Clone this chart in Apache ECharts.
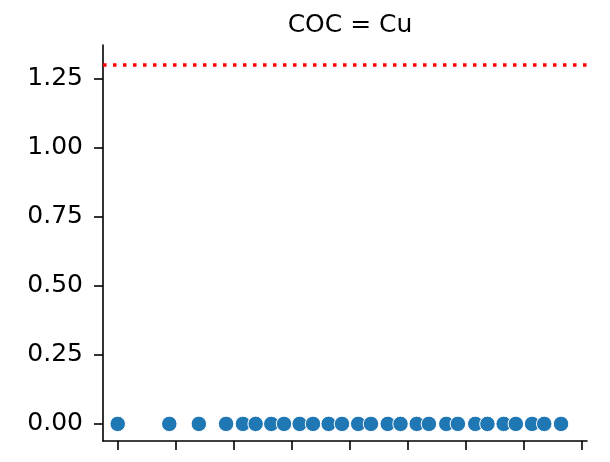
<!DOCTYPE html>
<html>
<head>
<meta charset="utf-8">
<script src="https://cdn.jsdelivr.net/npm/echarts@6/dist/echarts.min.js"></script>
<style>
html,body{margin:0;padding:0;background:#fff;}
#chart{width:610px;height:462px;}
</style>
</head>
<body>
<div id="chart"></div>
<script>
// x positions (in x-tick units; ticks at 0..8, labels not shown in the reference)
var xValues = [0.0, 0.89, 1.40, 1.87, 2.16, 2.38, 2.65, 2.87, 3.14, 3.37, 3.64, 3.87, 4.15, 4.37, 4.66, 4.88, 5.16, 5.37, 5.67, 5.87, 6.17, 6.38, 6.66, 6.87, 7.15, 7.36, 7.65];
var yValues = [0, 0, 0, 0, 0, 0, 0, 0, 0, 0, 0, 0, 0, 0, 0, 0, 0, 0, 0, 0, 0, 0, 0, 0, 0, 0, 0];
var xTicks = [0, 1, 2, 3, 4, 5, 6, 7, 8];
var yTicks = [0, 0.25, 0.5, 0.75, 1.0, 1.25];
var threshold = 1.3;
var titleText = 'COC = Cu';

var points = xValues.map(function (x, i) { return [x, yValues[i]]; });
var font = 'DejaVu Sans';
var ink = '#000000';

var chart = echarts.init(document.getElementById('chart'), null, {renderer: 'canvas'});
chart.setOption({
  animation: false,
  backgroundColor: '#fff',
  title: {
    text: titleText,
    left: 345, top: 8, textAlign: 'center',
    textStyle: {fontFamily: font, fontSize: 25, fontWeight: 'normal', color: ink}
  },
  grid: {left: 103, right: 23, top: 45, bottom: 21, containLabel: false},
  xAxis: {
    type: 'value', min: -0.254, max: 8.098,
    splitLine: {show: false},
    axisLine: {show: true, onZero: false, lineStyle: {color: ink, width: 1.6}},
    axisTick: {show: true, length: 9, customValues: xTicks, lineStyle: {color: ink, width: 1.6}},
    axisLabel: {show: false, customValues: xTicks}
  },
  yAxis: {
    type: 'value', min: -0.062, max: 1.373,
    splitLine: {show: false},
    axisLine: {show: true, onZero: false, lineStyle: {color: ink, width: 1.6}},
    axisTick: {show: true, length: 9, customValues: yTicks, lineStyle: {color: ink, width: 1.6}},
    axisLabel: {
      show: true, customValues: yTicks, margin: 20,
      fontFamily: font, fontSize: 25, color: ink,
      formatter: function (v) { return v.toFixed(2); }
    }
  },
  series: [{
    type: 'scatter',
    data: points,
    symbol: 'circle',
    symbolSize: 15.5,
    itemStyle: {color: '#1f77b4', borderColor: '#fff', borderWidth: 1, opacity: 1},
    markLine: {
      silent: true, symbol: 'none',
      label: {show: false},
      lineStyle: {color: '#ff0000', width: 3.5, type: [3.5, 6.5], opacity: 1},
      data: [{yAxis: threshold}]
    }
  }]
});
</script>
</body>
</html>
